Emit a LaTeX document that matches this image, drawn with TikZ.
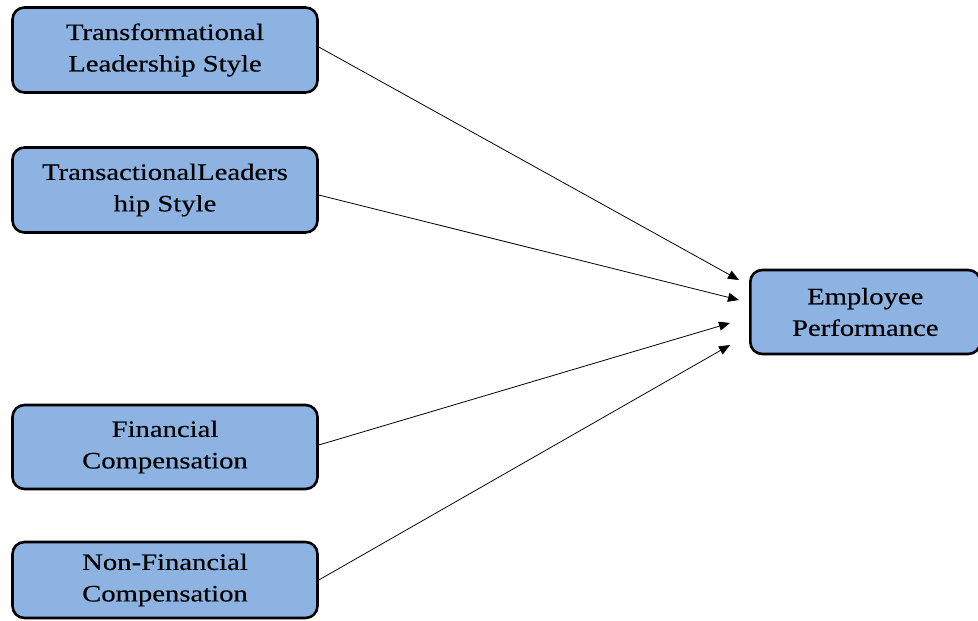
\documentclass[tikz,border=0pt]{standalone}
\usepackage{fontspec}
\newfontfamily\boxfont[FakeStretch=1.22,FakeBold=0.4]{Liberation Serif}
\usetikzlibrary{arrows.meta}
\definecolor{boxblue}{HTML}{8DB3E2}
\begin{document}
\begin{tikzpicture}[x=1pt,y=-1pt,
  box/.style={draw=black, line width=2.6pt, fill=boxblue, rounded corners=12pt, align=center,
    font=\boxfont\fontsize{23.5}{31.5}\selectfont, inner sep=0pt},
  conn/.style={-{Triangle[length=11pt,width=9pt]}, line width=0.8pt}]
\useasboundingbox (0,0) rectangle (978,621);
\node[box, minimum width=305pt, minimum height=85pt] (tf) at (165,50) {Transformational\\Leadership Style};
\node[box, minimum width=305pt, minimum height=85pt] (ta) at (165,190) {TransactionalLeaders\\hip Style};
\node[box, minimum width=305pt, minimum height=84pt] (fc) at (165,447) {Financial\\Compensation};
\node[box, minimum width=305pt, minimum height=76pt] (nf) at (165,580) {Non-Financial\\Compensation};
\node[box, minimum width=230pt, minimum height=84pt, anchor=west] (ep) at (749,312) {Employee\\Performance};
\coordinate (e1) at (739,280);
\coordinate (e2) at (739,300);
\coordinate (e3) at (730,323);
\coordinate (e4) at (730,345);
\draw[conn] (tf.east) ++(0,-3) -- (e1);
\draw[conn] (ta.east) ++(0,5) -- (e2);
\draw[conn] (fc.east) ++(0,-2) -- (e3);
\draw[conn] (nf.east) -- (e4);
\end{tikzpicture}
\end{document}
